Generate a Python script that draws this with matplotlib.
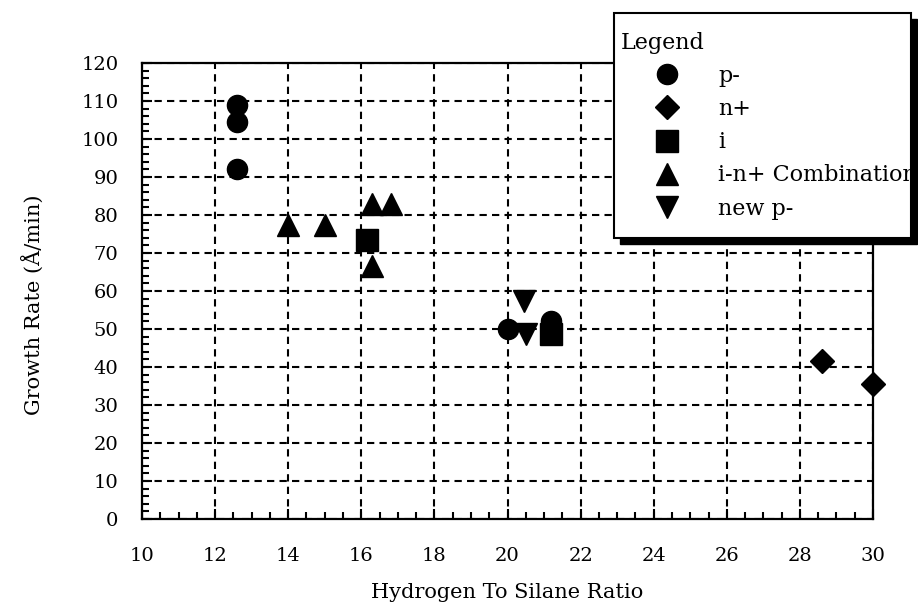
import matplotlib
matplotlib.use("Agg")
import matplotlib.pyplot as plt
from matplotlib.patches import Rectangle
from matplotlib.ticker import MultipleLocator

# Growth rate (Å/min) versus hydrogen-to-silane ratio, by film type
p_minus_x = [12.6, 12.6, 12.6, 20.0, 21.2]
p_minus_y = [109, 104.5, 92, 50, 52]

n_plus_x = [28.6, 30.0]
n_plus_y = [41.5, 35.5]

i_x = [16.15, 21.2]
i_y = [73.5, 48.8]

inp_x = [14.0, 15.0, 16.3, 16.8, 16.3]
inp_y = [77.5, 77.5, 83, 83, 66.5]

new_p_x = [20.45, 20.5]
new_p_y = [57.5, 48.7]

series_labels = ["p-", "n+", "i", "i-n+ Combination", "new p-"]
x_ticks = [10, 12, 14, 16, 18, 20, 22, 24, 26, 28, 30]
y_ticks = [0, 10, 20, 30, 40, 50, 60, 70, 80, 90, 100, 110, 120]

serif = "DejaVu Serif"
plt.rcParams["font.family"] = serif

W, H = 918, 611
fig = plt.figure(figsize=(W / 100, H / 100), dpi=100)
left, right, top, bottom = 142, 873, 63, 519
ax = fig.add_axes([left / W, (H - bottom) / H, (right - left) / W, (bottom - top) / H])

mk = dict(color="black", linestyle="none", clip_on=False, zorder=5)
ax.plot(p_minus_x, p_minus_y, marker="o", markersize=14.5, label=series_labels[0], **mk)
ax.plot(n_plus_x, n_plus_y, marker="D", markersize=12.5, label=series_labels[1], **mk)
ax.plot(i_x, i_y, marker="s", markersize=15.5, label=series_labels[2], **mk)
ax.plot(inp_x, inp_y, marker="^", markersize=16, label=series_labels[3], **mk)
ax.plot(new_p_x, new_p_y, marker="v", markersize=16, label=series_labels[4], **mk)

ax.set_xlim(10, 30)
ax.set_ylim(0, 120)
ax.set_xticks(x_ticks)
ax.set_yticks(y_ticks)
ax.xaxis.set_minor_locator(MultipleLocator(0.5))
ax.yaxis.set_minor_locator(MultipleLocator(2))
ax.tick_params(which="both", direction="in", width=1.5, colors="black")
ax.tick_params(which="major", length=7, labelsize=14)
ax.tick_params(which="minor", length=5)
ax.tick_params(axis="x", which="major", pad=20)
ax.tick_params(axis="y", which="major", pad=17)

ax.grid(True, which="major", color="black", linewidth=1.5,
        linestyle=(0, (3.5, 2.5)))
ax.set_axisbelow(True)
for s in ax.spines.values():
    s.set_linewidth(1.6)
    s.set_color("black")

ax.set_xlabel("Hydrogen To Silane Ratio", fontsize=15)
ax.xaxis.set_label_coords(0.5, (bottom - 583) / (bottom - top))
ax.set_ylabel("Growth Rate (Å/min)", fontsize=15)
ax.yaxis.set_label_coords((44 - left) / (right - left), 0.47)

# Legend panel: white box with a solid drop shadow
box_l, box_r, box_t, box_b, sh = 614, 911, 13, 238, 6
fig.patches.append(Rectangle(((box_l + sh) / W, (H - box_b - sh) / H),
                             (box_r - box_l) / W, (box_b - box_t) / H,
                             transform=fig.transFigure, facecolor="black",
                             edgecolor="black", zorder=4))
fig.patches.append(Rectangle((box_l / W, (H - box_b) / H),
                             (box_r - box_l) / W, (box_b - box_t) / H,
                             transform=fig.transFigure, facecolor="white",
                             edgecolor="black", linewidth=1.5, zorder=5))

handles, labels = ax.get_legend_handles_labels()
leg = fig.legend(
    handles, labels,
    loc="upper left",
    bbox_to_anchor=(621 / W, (H - 32) / H),
    title="Legend",
    alignment="left",
    fontsize=16,
    title_fontproperties={"family": serif, "size": 16},
    numpoints=1,
    handlelength=4.1,
    handletextpad=0.27,
    borderpad=0,
    borderaxespad=0,
    labelspacing=0.5,
    frameon=False,
)
leg.set_zorder(10)

fig.savefig("out.png", dpi=100, facecolor="white")
